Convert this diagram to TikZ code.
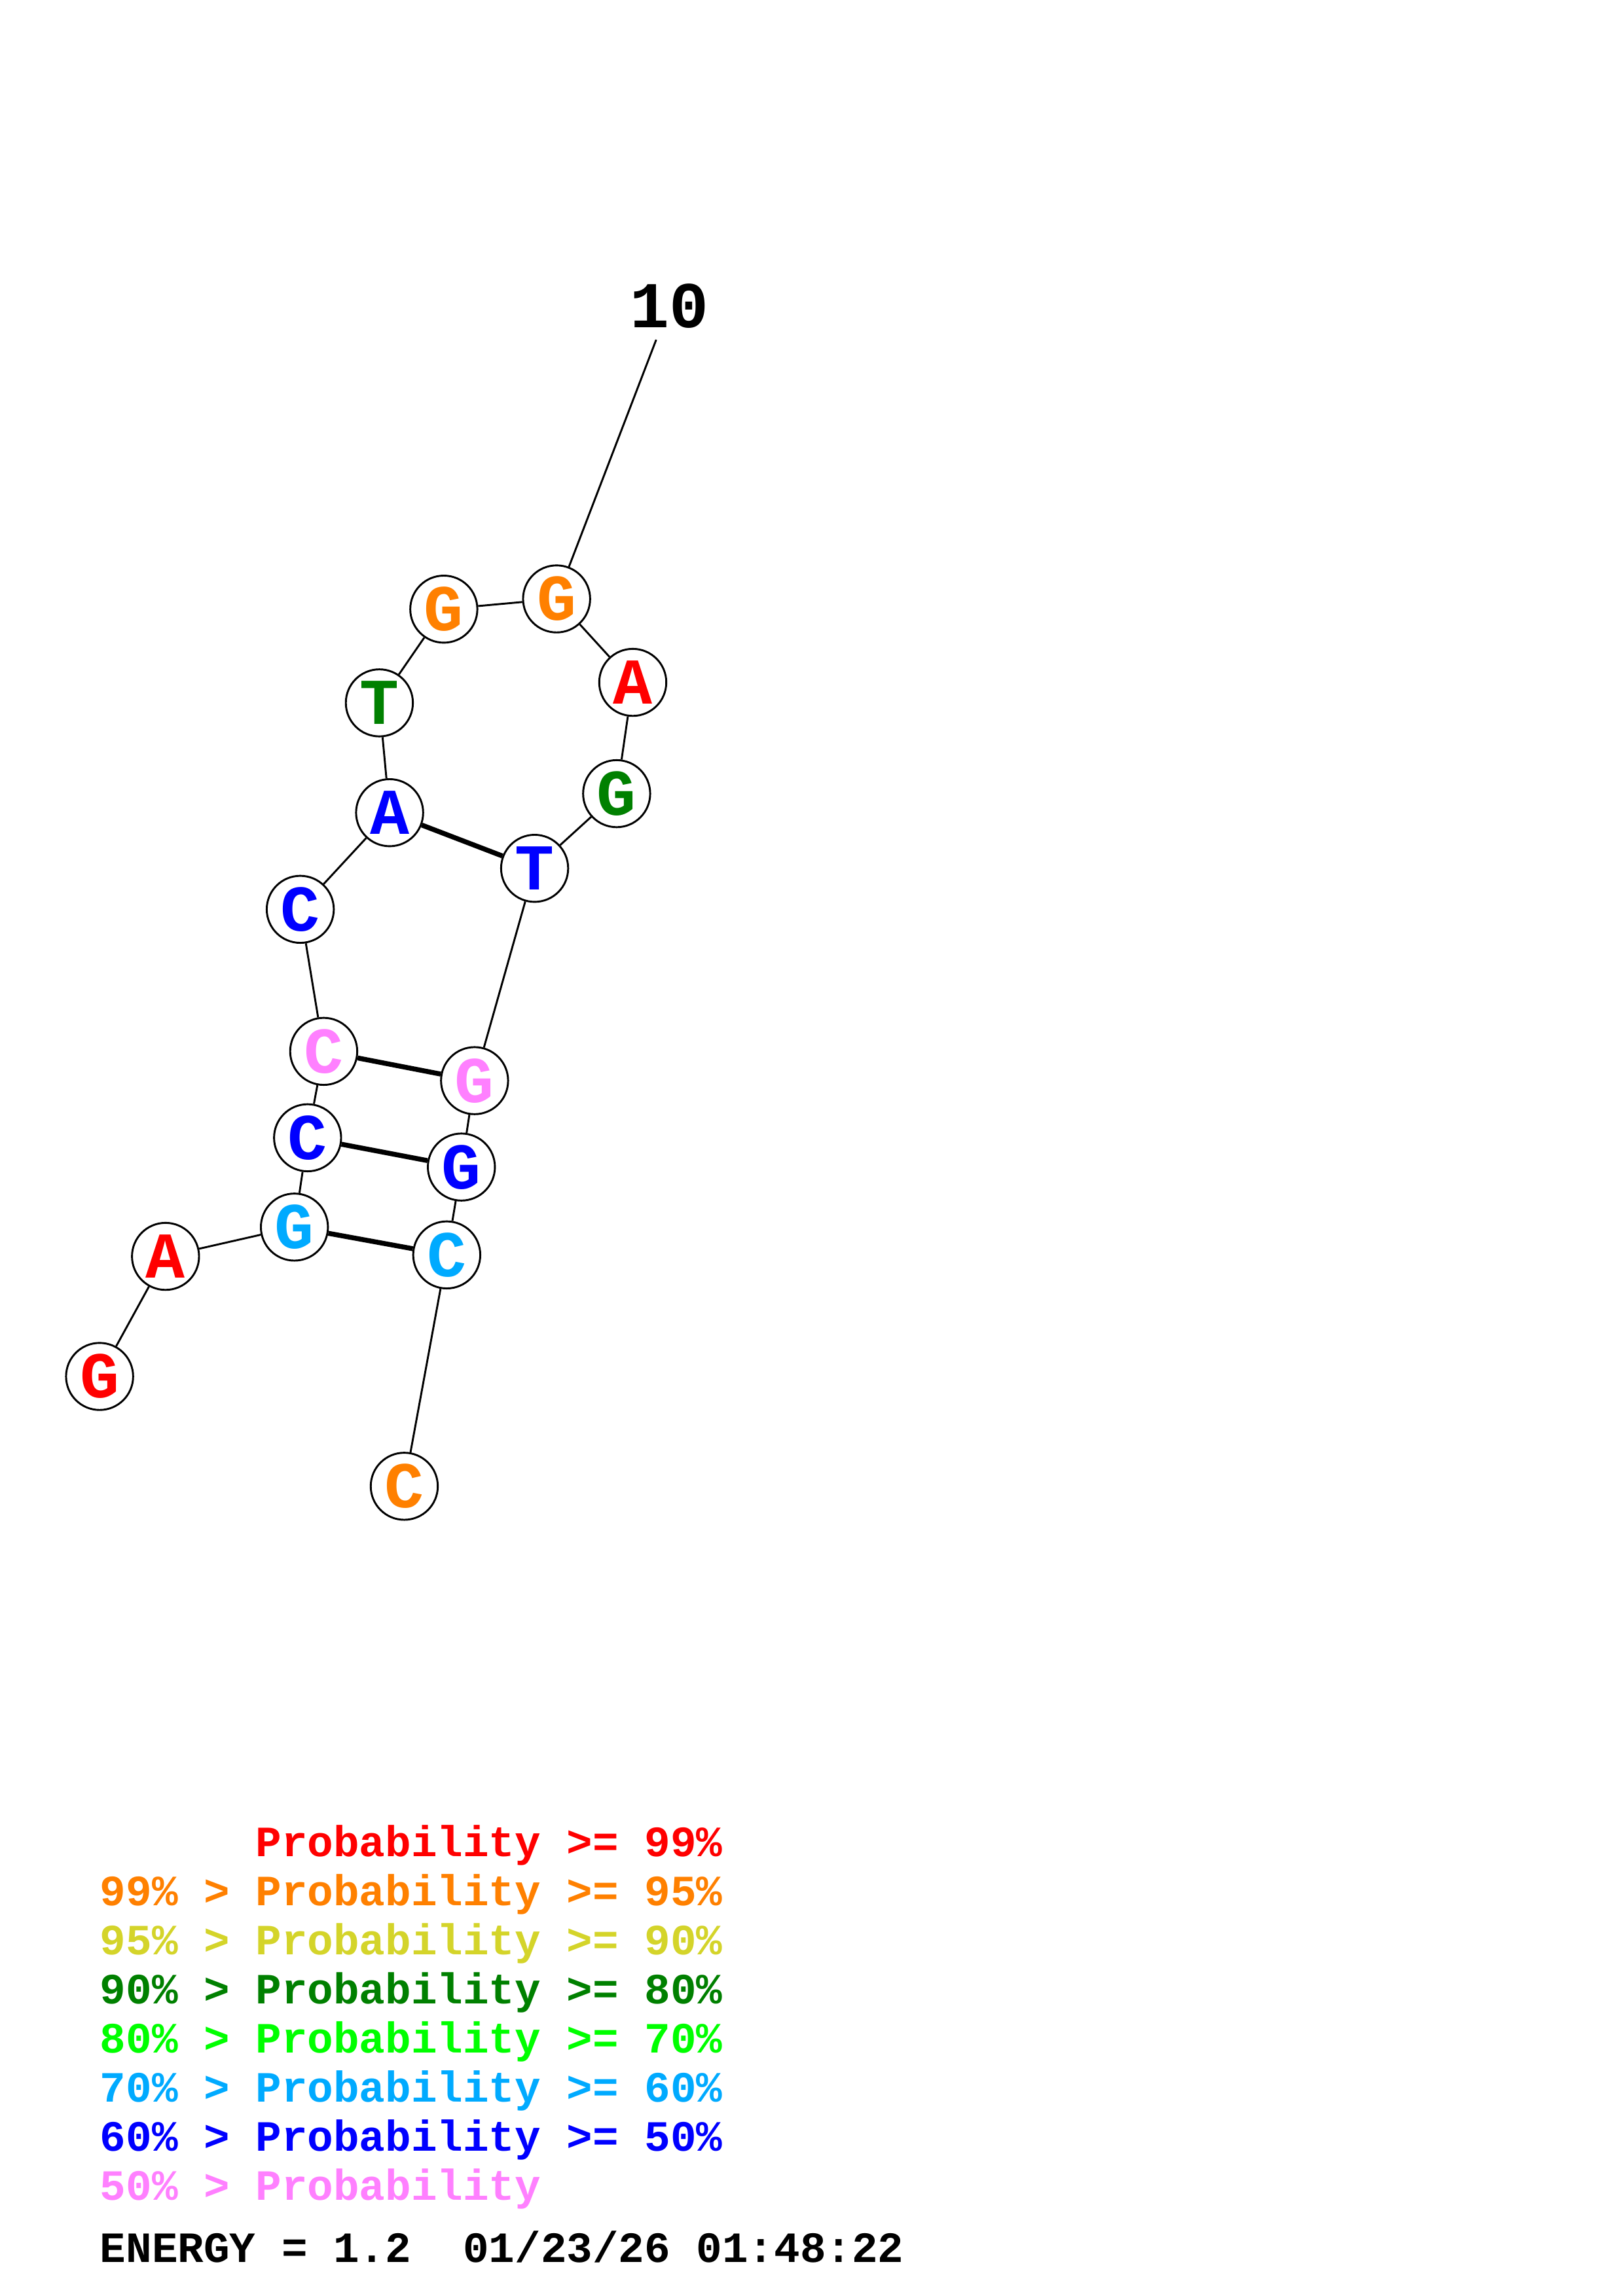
\documentclass[tikz,border=0pt]{standalone}
\usepackage{fontspec}
\setmonofont{Liberation Mono}
\definecolor{cRed}{RGB}{255,0,0}
\definecolor{cOrange}{RGB}{255,128,0}
\definecolor{cYellow}{RGB}{212,212,42}
\definecolor{cDGreen}{RGB}{0,128,0}
\definecolor{cGreen}{RGB}{0,255,0}
\definecolor{cCyan}{RGB}{0,170,255}
\definecolor{cBlue}{RGB}{0,0,255}
\definecolor{cPink}{RGB}{255,128,255}
\begin{document}
\begin{tikzpicture}[x=0.5373pt,y=-0.5373pt,
  base/.style={circle,draw=black,line width=0.7pt,fill=white,minimum size=24.6pt,inner sep=0pt,font=\fontsize{24}{24}\selectfont\ttfamily\bfseries},
  bb/.style={line width=0.7pt},
  pair/.style={line width=1.8pt},
  leg/.style={anchor=base west,inner sep=0pt,font=\fontsize{15.85}{16}\selectfont\ttfamily\bfseries}]
\useasboundingbox (0,0) rectangle (1108,1568);
\fill[white] (0,0) rectangle (1108,1568);
\node[base,text=cRed] (n1) at (68,940) {G};
\node[base,text=cRed] (n2) at (113,858) {A};
\node[base,text=cCyan] (n3) at (201,838) {G};
\node[base,text=cBlue] (n4) at (210,777) {C};
\node[base,text=cPink] (n5) at (221,718) {C};
\node[base,text=cBlue] (n6) at (205,621) {C};
\node[base,text=cBlue] (n7) at (266,555) {A};
\node[base,text=cDGreen] (n8) at (259,480) {T};
\node[base,text=cOrange] (n9) at (303,416) {G};
\node[base,text=cOrange] (n10) at (380,409) {G};
\node[base,text=cRed] (n11) at (432,466) {A};
\node[base,text=cDGreen] (n12) at (421,542) {G};
\node[base,text=cBlue] (n13) at (365,593) {T};
\node[base,text=cPink] (n14) at (324,738) {G};
\node[base,text=cBlue] (n15) at (315,797) {G};
\node[base,text=cCyan] (n16) at (305,857) {C};
\node[base,text=cOrange] (n17) at (276,1015) {C};
\node[font=\fontsize{24}{24}\selectfont\ttfamily\bfseries,inner sep=0pt] (lab10) at (457,209) {10};
\coordinate (t10) at (448,232);
\draw[bb] (n1)--(n2);
\draw[bb] (n2)--(n3);
\draw[bb] (n3)--(n4);
\draw[bb] (n4)--(n5);
\draw[bb] (n5)--(n6);
\draw[bb] (n6)--(n7);
\draw[bb] (n7)--(n8);
\draw[bb] (n8)--(n9);
\draw[bb] (n9)--(n10);
\draw[bb] (n10)--(n11);
\draw[bb] (n11)--(n12);
\draw[bb] (n12)--(n13);
\draw[bb] (n13)--(n14);
\draw[bb] (n14)--(n15);
\draw[bb] (n15)--(n16);
\draw[bb] (n16)--(n17);
\draw[bb] (t10)--(n10);
\draw[pair] (n7)--(n13);
\draw[pair] (n5)--(n14);
\draw[pair] (n4)--(n15);
\draw[pair] (n3)--(n16);
\node[leg,text=cRed] (l1) at (68,1268) {\phantom{99\% > }Probability >= 99\%};
\node[leg,text=cOrange] (l2) at (68,1301.5) {99\% > Probability >= 95\%};
\node[leg,text=cYellow] (l3) at (68,1335) {95\% > Probability >= 90\%};
\node[leg,text=cDGreen] (l4) at (68,1368.5) {90\% > Probability >= 80\%};
\node[leg,text=cGreen] (l5) at (68,1402) {80\% > Probability >= 70\%};
\node[leg,text=cCyan] (l6) at (68,1435.5) {70\% > Probability >= 60\%};
\node[leg,text=cBlue] (l7) at (68,1469) {60\% > Probability >= 50\%};
\node[leg,text=cPink] (l8) at (68,1502.5) {50\% > Probability};
\node[leg,text=black] (en) at (68,1545) {ENERGY = 1.2\ \ 01/23/26 01:48:22};
\end{tikzpicture}
\end{document}
